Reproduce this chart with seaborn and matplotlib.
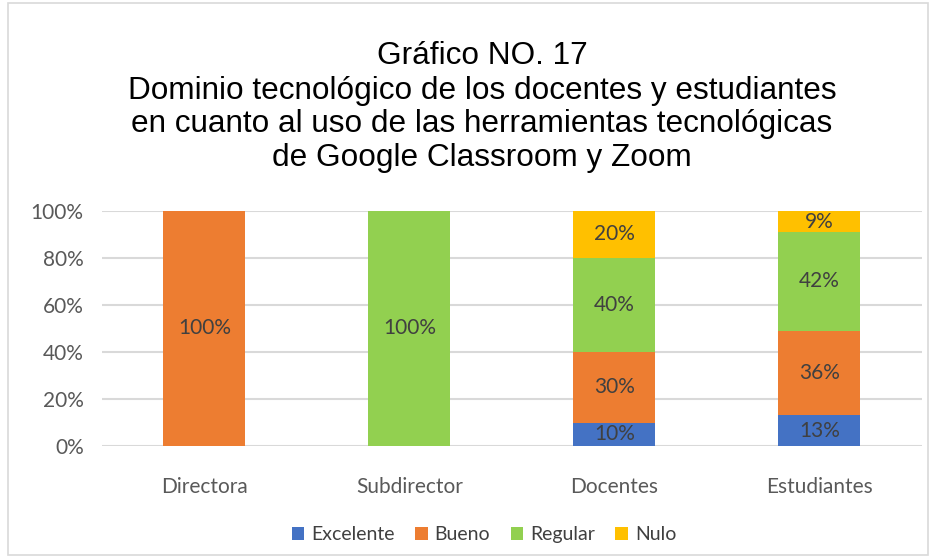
import numpy as np
import pandas as pd
import seaborn as sns
import matplotlib.pyplot as plt
from matplotlib.patches import Rectangle

categories = ["Directora", "Subdirector", "Docentes", "Estudiantes"]
series = ["Excelente", "Bueno", "Regular", "Nulo"]
excelente = [0, 0, 10, 13]
bueno = [100, 0, 30, 36]
regular = [0, 100, 40, 42]
nulo = [0, 0, 20, 9]
colors = ["#4472C4", "#ED7D31", "#92D050", "#FFC000"]

title_lines = ["Gráfico NO. 17",
               "Dominio tecnológico de los docentes y estudiantes",
               "en cuanto al uso de las herramientas tecnológicas",
               "de Google Classroom y Zoom"]

sns.set_style("white")
plt.rcParams['font.family'] = ['Lato', 'DejaVu Sans']

W, H = 934, 558
fig = plt.figure(figsize=(W / 100, H / 100), dpi=100)
ax = fig.add_axes([0.109, 0.2007, 0.878, 0.4212])

values = [excelente, bueno, regular, nulo]
bottom = np.zeros(len(categories))
for name, vals, col in zip(series, values, colors):
    df = pd.DataFrame({"cat": categories, "val": vals})
    sns.barplot(data=df, x="cat", y="val", color=col, width=0.4,
                bottom=bottom, ax=ax, label=name, saturation=1, linewidth=0)
    for i, v in enumerate(vals):
        if v > 0:
            ax.text(i, bottom[i] + v / 2, f"{v}%", ha="center", va="center",
                    fontsize=15, color="#404040")
    bottom = bottom + np.array(vals)

handles, labels = ax.get_legend_handles_labels()
if ax.get_legend() is not None:
    ax.get_legend().remove()

ax.set_ylim(0, 100)
ax.set_xlim(-0.5, 3.5)
ax.set_yticks(range(0, 101, 20))
ax.set_yticklabels([f"{t}%" for t in range(0, 101, 20)], fontsize=15, color="#595959")
ax.tick_params(axis="x", labelsize=15, labelcolor="#595959", pad=22, length=0)
ax.tick_params(axis="y", pad=13, length=0)
ax.set_xlabel("")
ax.set_ylabel("")
ax.yaxis.grid(True, color="#d9d9d9", linewidth=1.5)
ax.set_axisbelow(True)
for s in ax.spines.values():
    s.set_visible(False)

# title, one line per baseline
for line, base in zip(title_lines, [64.5, 98.5, 132.5, 166]):
    fig.text(482 / W, 1 - base / H, line, ha="center", va="baseline", fontsize=22.7,
             family=["Liberation Sans", "DejaVu Sans"], color="black")

fig.legend(handles, labels, loc="center", bbox_to_anchor=(484 / W, 0.042), ncol=4,
           frameon=False, fontsize=14, handlelength=0.65, handleheight=0.65,
           columnspacing=1.05, handletextpad=0.35, labelcolor="#404040")

fig.patches.append(Rectangle((0.009, 0.005), 0.985, 0.99, transform=fig.transFigure,
                             fill=False, edgecolor="#d9d9d9", linewidth=1.2))

fig.savefig("out.png", dpi=100)
